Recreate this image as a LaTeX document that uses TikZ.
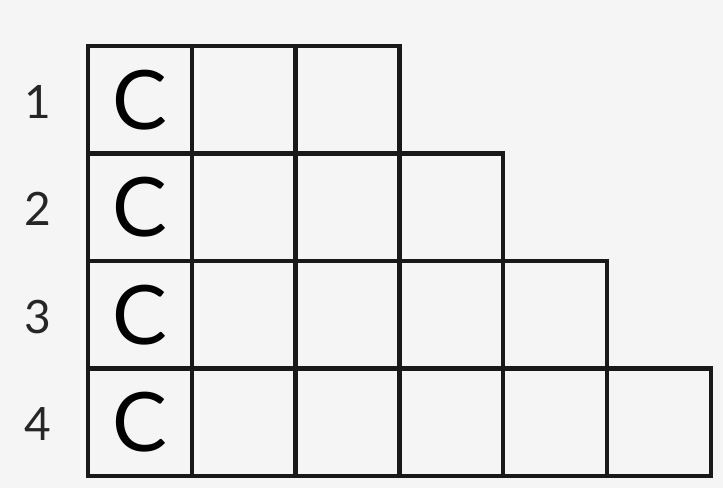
\documentclass[tikz,border=0pt]{standalone}
\usepackage{fontspec}
\setmainfont{Lato}
\begin{document}
\begin{tikzpicture}[x=1pt,y=-1pt,
  cell/.style={draw=black!90, line width=4.4pt, rectangle, minimum width=103.8pt, minimum height=107.5pt, inner sep=0pt, anchor=center, font=\fontsize{82}{82}\selectfont},
  rowlabel/.style={inner sep=0pt, font=\fontsize{46}{46}\selectfont, text=black!85}]
\fill[black!4] (0,0) rectangle (723,488);
\useasboundingbox (0,0) rectangle (723,488);
\foreach \r/\n in {1/3,2/4,3/5,4/6}{
  \foreach \c in {1,...,\n}{
    \node[cell] (c\r\c) at ({88+103.8*(\c-0.5)},{46+107.5*(\r-0.5)}) {\ifnum\c=1 C\fi};
  }
  \node[rowlabel] (l\r) at (38,{46+107.5*(\r-0.5)+2}) {\r};
}
\end{tikzpicture}
\end{document}
